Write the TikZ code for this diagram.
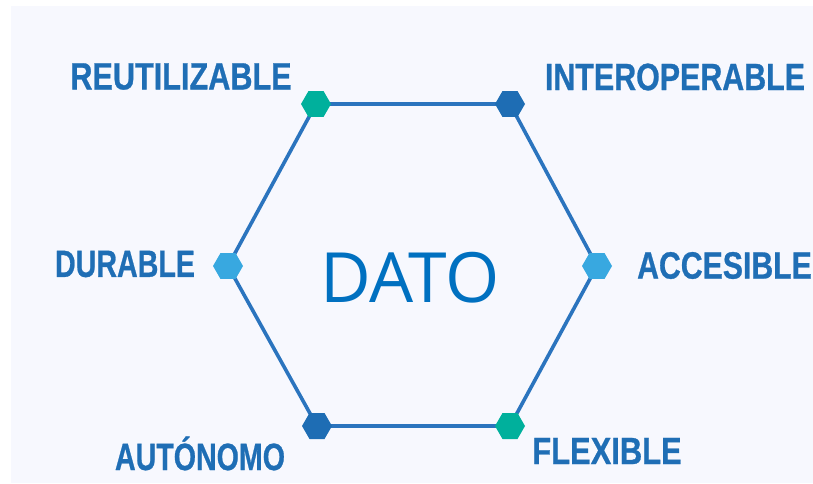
\documentclass[tikz,border=0pt]{standalone}
\usepackage{fontspec}
\setmainfont{Liberation Sans}
\newfontfamily\labfont{Liberation Sans}[Scale=1.0]
\newfontfamily\labfontbold{Liberation Sans Bold}[FakeBold=0.8]
\newfontfamily\datofont{Open Sans}
\usetikzlibrary{shapes.geometric}
\definecolor{bgcol}{HTML}{F7F8FE}
\definecolor{linecol}{HTML}{2B74BE}
\definecolor{labcol}{HTML}{1F6EB5}
\definecolor{datocol}{HTML}{0070C0}
\definecolor{teal}{HTML}{00B09C}
\definecolor{dblue}{HTML}{1E6DB4}
\definecolor{lblue}{HTML}{38A8E0}
\newcommand{\lbl}[2]{\resizebox{#1}{\height}{\fontsize{28.5pt}{30pt}\labfontbold #2}}
\begin{document}
\begin{tikzpicture}[x=0.75pt,y=-0.75pt,
  hexmark/.style={regular polygon, regular polygon sides=6, minimum size=22.5pt, inner sep=0pt, draw=none},
  lab/.style={text=labcol, inner sep=0pt, anchor=center},
  edge/.style={draw=linecol, line width=2.7pt}]
\fill[white] (0,0) rectangle (813,483);
\useasboundingbox (0,0) rectangle (813,483);
\fill[bgcol] (11,6) rectangle (813,483);
% vertices
\coordinate (tl) at (316,104);
\coordinate (tr) at (510,104);
\coordinate (r) at (597,266);
\coordinate (br) at (510,426);
\coordinate (bl) at (317,426);
\coordinate (l) at (228,266);
\draw[edge] (tl) -- (tr) -- (r) -- (br) -- (bl) -- (l) -- cycle;
\node[hexmark, fill=teal] (mtl) at (tl) {};
\node[hexmark, fill=dblue] (mtr) at (tr) {};
\node[hexmark, fill=lblue] (mr) at (r) {};
\node[hexmark, fill=teal] (mbr) at (br) {};
\node[hexmark, fill=dblue] (mbl) at (bl) {};
\node[hexmark, fill=lblue] (ml) at (l) {};
% labels
\node[lab] (reu) at (181,76.5) {\lbl{166pt}{REUTILIZABLE}};
\node[lab] (int) at (675,77) {\lbl{195pt}{INTEROPERABLE}};
\node[lab] (dur) at (125,264) {\lbl{105pt}{DURABLE}};
\node[lab] (acc) at (724.5,265.5) {\lbl{131pt}{ACCESIBLE}};
\node[lab, anchor=base] (aut) at (200,470) {\lbl{127.5pt}{AUTÓNOMO}};
\node[lab] (fle) at (607,451) {\lbl{112pt}{FLEXIBLE}};
\node[text=datocol, inner sep=0pt] (dato) at (410,278) {\resizebox{135pt}{\height}{\fontsize{52pt}{54pt}\datofont DATO}};
\end{tikzpicture}
\end{document}
